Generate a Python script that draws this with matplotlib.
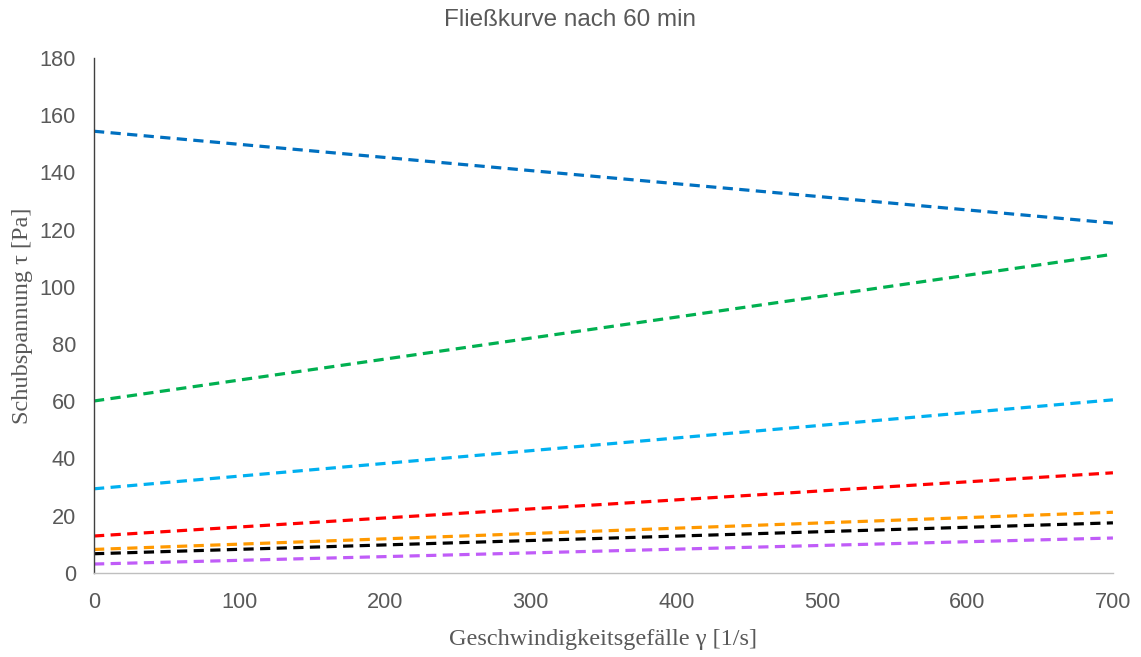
import numpy as np
import matplotlib.pyplot as plt

# shear rate range and fitted line endpoints (tau at 0 and 700 1/s)
x_ends = [0, 700]
blau = [154.4, 122.3]
gruen = [60.1, 111.4]
hellblau = [29.4, 60.5]
rot = [12.9, 35.0]
orange = [8.2, 21.2]
schwarz = [6.7, 17.5]
lila = [3.1, 12.2]

series = [
    (blau, '#0070C0'),
    (gruen, '#00B050'),
    (hellblau, '#00B0F0'),
    (rot, '#FF0000'),
    (orange, '#FF9900'),
    (schwarz, '#000000'),
    (lila, '#C05CF8'),
]

fig = plt.figure(figsize=(11.41, 6.57), dpi=100)
ax = fig.add_axes([0.0824, 0.128, 0.893, 0.7837])

for vals, c in series:
    ax.plot(x_ends, vals, color=c, lw=2.3, dashes=(3.2, 2.0))

ax.set_xlim(0, 700)
ax.set_ylim(0, 180)
ax.set_xticks(np.arange(0, 701, 100))
ax.set_yticks(np.arange(0, 181, 20))

grey = '#595959'
ax.tick_params(length=0, labelsize=15.7, colors=grey)
ax.tick_params(axis='y', pad=13)
ax.tick_params(axis='x', pad=14)
for lab in ax.get_xticklabels() + ax.get_yticklabels():
    lab.set_family('Liberation Sans')

ax.spines['top'].set_visible(False)
ax.spines['right'].set_visible(False)
ax.spines['left'].set_color('#404040')
ax.spines['bottom'].set_color('#BFBFBF')
ax.spines['left'].set_linewidth(1.0)
ax.spines['bottom'].set_linewidth(1.0)

ax.set_xlabel('Geschwindigkeitsgefälle γ [1/s]', family='Liberation Serif',
              fontsize=17.5, color=grey, labelpad=11)
ax.set_ylabel('Schubspannung τ [Pa]', family='Liberation Serif',
              fontsize=17.5, color=grey, labelpad=5)
fig.text(0.5, 0.97, 'Fließkurve nach 60 min', ha='center', va='center',
         family='Liberation Sans', fontsize=17.5, color=grey)

fig.savefig('out.png', dpi=100)
